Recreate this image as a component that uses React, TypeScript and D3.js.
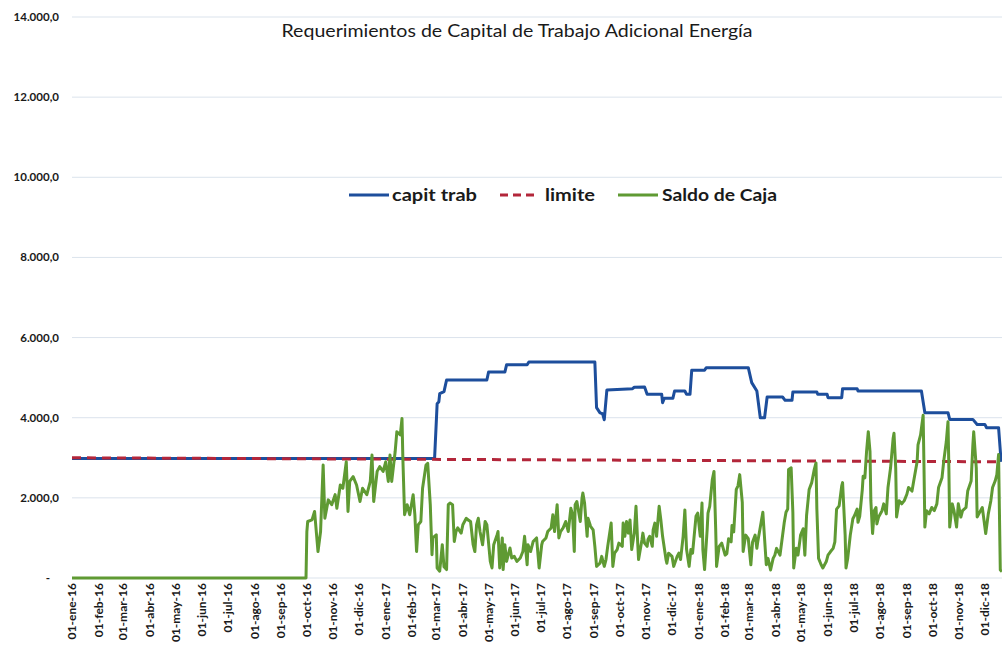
import React, { useEffect, useRef } from 'react';
import * as d3 from 'd3';

// fechas: días desde 01-ene-16
const meses = ['ene', 'feb', 'mar', 'abr', 'may', 'jun', 'jul', 'ago', 'sep', 'oct', 'nov', 'dic'];
const yTicks = [0, 2000, 4000, 6000, 8000, 10000, 12000, 14000];
const diaFinal = 1085;

const capitTrab: [number, number][] = [
  [0, 2980], [423, 2980], [426, 4350], [428, 4400], [429, 4600], [434, 4650], [437, 4940], [484, 4940],
  [486, 5140], [505, 5140], [507, 5320], [531, 5320], [533, 5390], [610, 5390], [612, 4250], [616, 4120],
  [619, 4100], [621, 3950], [624, 4690], [654, 4725], [656, 4760], [668, 4767], [671, 4583], [688, 4583],
  [689, 4375], [691, 4483], [701, 4483], [703, 4667], [715, 4667], [717, 4583], [721, 4583], [723, 5183],
  [738, 5183], [740, 5250], [789, 5250], [793, 4875], [799, 4667], [803, 4000], [808, 4000], [811, 4517],
  [829, 4517], [832, 4433], [840, 4433], [841, 4642], [869, 4642], [870, 4583], [881, 4583], [882, 4500],
  [898, 4500], [899, 4725], [916, 4725], [917, 4667], [991, 4667], [995, 4125], [1022, 4125], [1024, 3958],
  [1051, 3958], [1056, 3833], [1065, 3833], [1067, 3750], [1081, 3750], [1084, 2900]
];

const limite: [number, number][] = [[0, 3000], [1085, 2900]];

const saldoCaja: [number, number][] = [
  [0, 0], [273, 0], [274, 1160], [275, 1410], [280, 1450], [283, 1660], [287, 660], [290, 1160], [293, 2820],
  [295, 1490], [299, 1950], [303, 1830], [307, 2080], [309, 1740], [313, 2320], [316, 2240], [320, 2900],
  [322, 1660], [324, 2410], [328, 2530], [332, 2320], [336, 1910], [339, 2240], [344, 2080], [348, 2410],
  [350, 3070], [352, 1910], [356, 2660], [359, 2780], [363, 2660], [366, 2900], [369, 2410], [371, 3070],
  [373, 2410], [377, 3150], [379, 3650], [383, 3570], [385, 3980], [386, 2990], [388, 1580], [391, 1830],
  [394, 1580], [398, 2080], [400, 1580], [402, 660], [404, 1330], [407, 1410], [409, 2240], [413, 2820],
  [415, 2860], [418, 1830], [420, 580], [421, 1000], [425, 1080], [426, 250], [429, 170], [432, 830],
  [434, 280], [437, 210], [439, 1830], [441, 1870], [444, 1830], [446, 910], [448, 1160], [450, 1250],
  [454, 1120], [456, 1330], [460, 1490], [462, 1450], [465, 1410], [468, 830], [470, 660], [472, 1330],
  [474, 1490], [476, 1160], [479, 830], [482, 1410], [484, 1330], [488, 415], [490, 250], [492, 830],
  [496, 1080], [497, 1160], [499, 250], [502, 1000], [503, 210], [505, 830], [507, 415], [511, 750],
  [513, 500], [516, 540], [519, 415], [523, 500], [526, 660], [528, 1040], [531, 330], [532, 830],
  [535, 660], [538, 910], [542, 1000], [545, 250], [548, 830], [549, 910], [553, 1000], [555, 1160],
  [559, 1250], [561, 1580], [563, 1160], [566, 1830], [568, 1000], [570, 1160], [573, 1250], [576, 1410],
  [579, 1160], [582, 1740], [584, 1580], [586, 660], [587, 1830], [589, 1910], [593, 1410], [595, 1990],
  [596, 2120], [598, 1870], [601, 1040], [602, 1490], [605, 1290], [608, 1200], [610, 790], [612, 290],
  [616, 370], [618, 540], [621, 290], [623, 460], [625, 790], [629, 1370], [631, 290], [633, 620],
  [636, 710], [638, 870], [642, 790], [643, 1370], [645, 1040], [647, 1410], [649, 1120], [651, 1450],
  [653, 710], [656, 1120], [658, 1790], [660, 870], [661, 460], [665, 960], [666, 1120], [668, 870],
  [671, 790], [672, 960], [674, 1040], [677, 790], [678, 1200], [680, 1370], [682, 1040], [685, 1790],
  [687, 1450], [689, 1040], [693, 460], [694, 370], [696, 620], [700, 540], [702, 290], [706, 540],
  [708, 620], [710, 460], [713, 1040], [715, 1700], [717, 710], [720, 290], [722, 710], [724, 620],
  [728, 1540], [730, 1620], [733, 1040], [735, 1870], [736, 710], [738, 210], [741, 1200], [742, 1620],
  [744, 1790], [747, 2450], [749, 2660], [751, 1200], [752, 290], [755, 790], [758, 870], [762, 570],
  [764, 610], [766, 980], [769, 900], [770, 1310], [772, 1150], [775, 2210], [777, 2300], [779, 2580],
  [782, 1890], [783, 660], [786, 1070], [789, 980], [792, 330], [794, 900], [797, 1070], [799, 740],
  [800, 900], [804, 1390], [806, 1640], [807, 1310], [810, 330], [812, 490], [815, 200], [818, 490],
  [820, 570], [822, 740], [826, 570], [828, 900], [831, 1390], [833, 1640], [835, 1720], [836, 2710],
  [839, 2750], [841, 1640], [842, 250], [845, 740], [847, 570], [850, 1070], [853, 1230], [855, 570],
  [857, 1560], [860, 2210], [863, 2380], [866, 2710], [868, 2870], [869, 1720], [871, 490], [874, 330],
  [876, 250], [880, 410], [882, 570], [885, 660], [888, 740], [890, 900], [892, 1720], [895, 1800],
  [898, 2300], [899, 2380], [902, 1070], [903, 250], [905, 490], [908, 1070], [911, 1480], [913, 1560],
  [916, 1720], [917, 1390], [919, 1540], [922, 2200], [923, 2540], [925, 2500], [927, 3160], [929, 3650],
  [931, 3160], [932, 1930], [934, 1110], [936, 1680], [938, 1760], [939, 1350], [941, 1520], [945, 1680],
  [947, 1850], [950, 1600], [952, 2260], [955, 2750], [958, 3490], [959, 3610], [961, 2750], [962, 1520],
  [965, 1930], [968, 1850], [971, 1930], [974, 2090], [976, 2260], [980, 2170], [982, 2420], [986, 2910],
  [987, 3320], [990, 3570], [993, 4060], [994, 2750], [995, 1270], [997, 1680], [1000, 1600], [1003, 1760],
  [1006, 1680], [1009, 1850], [1011, 2260], [1015, 2500], [1017, 2910], [1020, 3400], [1022, 3900],
  [1023, 2750], [1024, 1270], [1027, 1850], [1029, 1680], [1032, 1270], [1034, 1850], [1037, 1520],
  [1039, 1680], [1043, 1760], [1045, 2170], [1049, 2420], [1051, 3320], [1052, 3650], [1055, 2750],
  [1056, 1520], [1058, 1600], [1062, 1760], [1064, 1440], [1066, 1110], [1069, 1600], [1072, 1930],
  [1074, 2260], [1077, 2420], [1079, 2580], [1081, 3080], [1083, 200], [1085, 160]
];

const series = [
  { nombre: 'capit trab', datos: capitTrab, color: '#1d4e9c', dash: '' },
  { nombre: 'limite', datos: limite, color: '#b3263a', dash: '9,6' },
  { nombre: 'Saldo de Caja', datos: saldoCaja, color: '#5f9a33', dash: '' }
];

const App: React.FC = () => {
  const svgRef = useRef<SVGSVGElement>(null);

  useEffect(() => {
    if (!svgRef.current) return;
    const svg = d3.select(svgRef.current);
    svg.selectAll('*').remove();

    const width = 1002;
    const left = 72;
    const font = 'Lato, "Noto Sans", sans-serif';

    const inicio = new Date(Date.UTC(2016, 0, 1));
    const fin = d3.utcDay.offset(inicio, diaFinal);
    const x = d3.scaleUtc().domain([inicio, fin]).range([left, width]);
    const y = d3.scaleLinear().domain([0, 14000]).range([578, 17]);

    const es = d3.formatLocale({ decimal: ',', thousands: '.', grouping: [3], currency: ['', ''] });
    const fmt = es.format(',.1f');

    // gridlines
    svg.append('g')
      .selectAll('line')
      .data(yTicks)
      .enter().append('line')
      .attr('x1', left)
      .attr('x2', width)
      .attr('y1', d => y(d))
      .attr('y2', d => y(d))
      .attr('stroke', '#dbe3ec')
      .attr('stroke-width', 1);

    // y labels
    svg.append('g')
      .selectAll('text')
      .data(yTicks)
      .enter().append('text')
      .attr('x', d => (d === 0 ? 48 : 59))
      .attr('y', d => y(d) + 4)
      .attr('text-anchor', d => (d === 0 ? 'middle' : 'end'))
      .style('font-family', font)
      .style('font-size', '11.5px')
      .style('font-weight', 'bold')
      .style('fill', '#1a1a1a')
      .text(d => (d === 0 ? '-' : fmt(d)));

    // x labels, one per month
    const primeros = d3.utcMonth.range(inicio, fin);
    svg.append('g')
      .selectAll('text')
      .data(primeros)
      .enter().append('text')
      .attr('transform', d => `translate(${x(d) + 4},583) rotate(-90)`)
      .attr('text-anchor', 'end')
      .style('font-family', font)
      .style('font-size', '12px')
      .style('font-weight', 'bold')
      .style('fill', '#1a1a1a')
      .text(d => `01-${meses[d.getUTCMonth()]}-${String(d.getUTCFullYear()).slice(2)}`);

    const line = d3.line<[number, number]>()
      .x(d => x(d3.utcDay.offset(inicio, d[0])))
      .y(d => y(d[1]));

    series.forEach(s => {
      svg.append('path')
        .datum(s.datos)
        .attr('fill', 'none')
        .attr('stroke', s.color)
        .attr('stroke-width', 3)
        .attr('stroke-linejoin', 'round')
        .attr('stroke-dasharray', s.dash || null)
        .attr('d', line);
    });

    // title
    svg.append('text')
      .attr('x', 517)
      .attr('y', 37)
      .attr('text-anchor', 'middle')
      .attr('textLength', 471)
      .attr('lengthAdjust', 'spacingAndGlyphs')
      .style('font-family', font)
      .style('font-size', '18px')
      .style('fill', '#1a1a1a')
      .text('Requerimientos de Capital de Trabajo Adicional Energía');

    // legend
    const leyenda = [
      { x1: 349, x2: 389, tx: 392, tw: 85 },
      { x1: 500, x2: 534, tx: 545, tw: 50 },
      { x1: 618, x2: 658, tx: 662, tw: 115 }
    ];
    series.forEach((s, i) => {
      const p = leyenda[i];
      svg.append('line')
        .attr('x1', p.x1)
        .attr('x2', p.x2)
        .attr('y1', 195)
        .attr('y2', 195)
        .attr('stroke', s.color)
        .attr('stroke-width', 3)
        .attr('stroke-dasharray', s.dash ? '8,5' : null);
      svg.append('text')
        .attr('x', p.tx)
        .attr('y', 201)
        .attr('textLength', p.tw)
        .attr('lengthAdjust', 'spacingAndGlyphs')
        .style('font-family', font)
        .style('font-size', '17px')
        .style('font-weight', 'bold')
        .style('fill', '#1a1a1a')
        .text(s.nombre);
    });
  }, []);

  return (
    <svg
      ref={svgRef}
      width={1002}
      height={647}
      style={{ position: 'absolute', left: 0, top: 0, background: '#fff' }}
    />
  );
};

export default App;
